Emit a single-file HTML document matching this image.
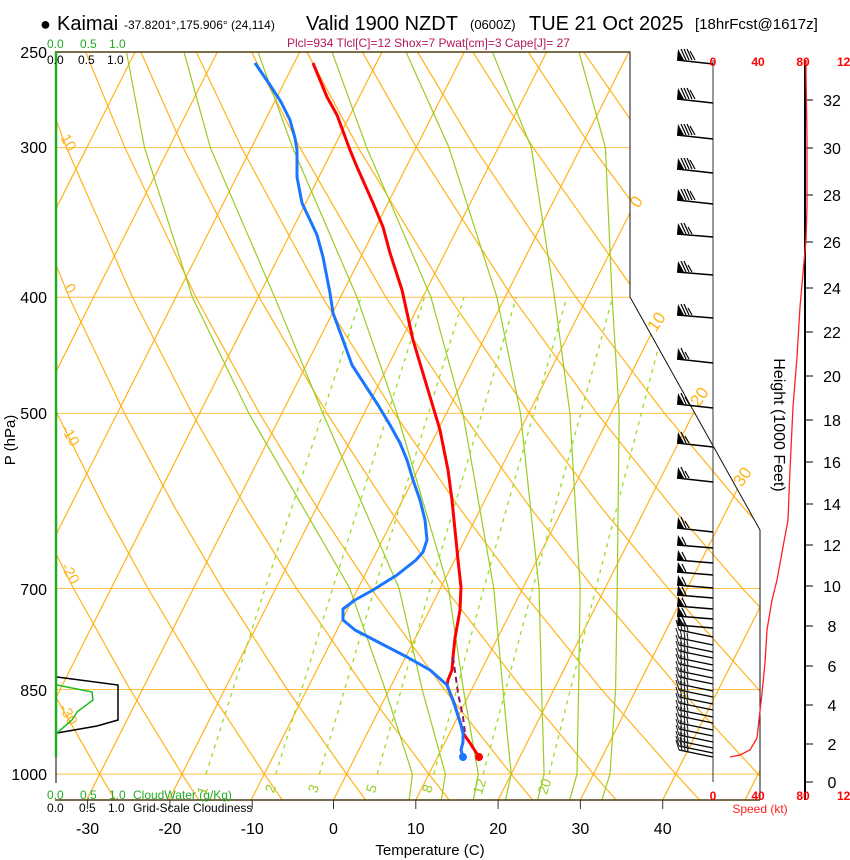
<!DOCTYPE html>
<html><head><meta charset="utf-8"><style>
html,body{margin:0;padding:0;background:#fff;}
svg{display:block;font-family:"Liberation Sans",Arial,sans-serif;}
</style></head><body>
<svg width="850" height="860" viewBox="0 0 850 860" xmlns="http://www.w3.org/2000/svg" xmlns:xlink="http://www.w3.org/1999/xlink">
<defs>
<clipPath id="cp"><polygon points="55,52 630,52 630,297 760,530 760,800 55,800"/></clipPath>
<g id="bA"><line x1="0" y1="0" x2="-36" y2="-4" stroke="#000" stroke-width="1.5"/><polygon points="-36,-4 -29,-4 -35,-15" fill="#000"/><g stroke="#000" stroke-width="1.2"><line x1="-27" y1="-4" x2="-32" y2="-15"/><line x1="-24" y1="-4" x2="-29" y2="-15"/><line x1="-21" y1="-4" x2="-26" y2="-15"/><line x1="-18" y1="-4" x2="-23" y2="-13"/></g></g>
<g id="bB"><line x1="0" y1="0" x2="-36" y2="-3" stroke="#000" stroke-width="1.5"/><polygon points="-36,-3 -29,-3 -35,-14" fill="#000"/><g stroke="#000" stroke-width="1.2"><line x1="-27" y1="-3" x2="-32" y2="-14"/><line x1="-24" y1="-3" x2="-29" y2="-14"/><line x1="-21" y1="-3" x2="-25" y2="-10"/></g></g>
<g id="bC"><line x1="0" y1="0" x2="-36" y2="-4" stroke="#000" stroke-width="1.5"/><polygon points="-36,-4 -29,-4 -35,-15" fill="#000"/><g stroke="#000" stroke-width="1.2"><line x1="-27" y1="-4" x2="-32" y2="-15"/><line x1="-24" y1="-4" x2="-28" y2="-11"/></g></g>
<g id="bD"><line x1="0" y1="0" x2="-36" y2="-3" stroke="#000" stroke-width="1.5"/><polygon points="-36,-3 -29,-3 -35,-13" fill="#000"/><line x1="-27" y1="-3" x2="-31" y2="-11" stroke="#000" stroke-width="1.2"/></g>
<g id="bE"><line x1="0" y1="0" x2="-34" y2="-7" stroke="#000" stroke-width="1.4"/><g stroke="#222" stroke-width="1.1"><line x1="-34" y1="-7" x2="-37" y2="-17"/><line x1="-31" y1="-6.4" x2="-33" y2="-16"/><line x1="-28" y1="-5.8" x2="-29" y2="-15"/><line x1="-25" y1="-5.2" x2="-26" y2="-12"/></g></g>
</defs>
<g clip-path="url(#cp)" fill="none">
<g stroke="#ffc04d" stroke-width="1">
<line x1="55" x2="760" y1="147.6" y2="147.6"/><line x1="55" x2="760" y1="297.3" y2="297.3"/><line x1="55" x2="760" y1="413.4" y2="413.4"/><line x1="55" x2="760" y1="588.5" y2="588.5"/><line x1="55" x2="760" y1="689.5" y2="689.5"/><line x1="55" x2="760" y1="774.1" y2="774.1"/>
</g>
<g stroke="#ffb31a" stroke-width="1.2">
<line x1="-324.9" y1="800" x2="52.8" y2="52"/><line x1="-242.6" y1="800" x2="135.1" y2="52"/><line x1="-160.3" y1="800" x2="217.4" y2="52"/><line x1="-78" y1="800" x2="299.7" y2="52"/><line x1="4.3" y1="800" x2="382" y2="52"/><line x1="86.6" y1="800" x2="464.3" y2="52"/><line x1="168.9" y1="800" x2="546.6" y2="52"/><line x1="251.2" y1="800" x2="628.9" y2="52"/><line x1="333.5" y1="800" x2="711.2" y2="52"/><line x1="415.8" y1="800" x2="793.5" y2="52"/><line x1="498.1" y1="800" x2="875.8" y2="52"/><line x1="580.4" y1="800" x2="958.1" y2="52"/><line x1="662.7" y1="800" x2="1040.4" y2="52"/><line x1="745" y1="800" x2="1122.7" y2="52"/>
<polyline points="115.3,800 99.7,774.1 51.6,689.5 -0.7,588.5 -38.1,508.3"/>
<polyline points="198.8,800 182,774.1 130.1,689.5 73.6,588.5 33,508.3 -11,413.4"/>
<polyline points="282.2,800 264.3,774.1 208.7,689.5 148,588.5 104.1,508.3 57,413.4 5.9,297.3"/>
<polyline points="365.7,800 346.6,774.1 287.2,689.5 222.3,588.5 175.2,508.3 124.5,413.4 69.2,297.3 8.2,147.6"/>
<polyline points="449.2,800 428.9,774.1 365.8,689.5 296.6,588.5 246.4,508.3 192,413.4 132.6,297.3 66.5,147.6 30.5,52.7"/>
<polyline points="532.7,800 511.2,774.1 444.4,689.5 370.9,588.5 317.5,508.3 259.5,413.4 195.9,297.3 124.9,147.6 85.9,52.7"/>
<polyline points="616.2,800 593.5,774.1 522.9,689.5 445.2,588.5 388.6,508.3 327,413.4 259.2,297.3 183.2,147.6 141.2,52.7"/>
<polyline points="699.6,800 675.8,774.1 601.5,689.5 519.6,588.5 459.7,508.3 394.5,413.4 322.5,297.3 241.5,147.6 196.6,52.7"/>
<polyline points="783.1,800 758.1,774.1 680,689.5 593.9,588.5 530.8,508.3 462,413.4 385.9,297.3 299.9,147.6 251.9,52.7"/>
<polyline points="866.6,800 840.4,774.1 758.6,689.5 668.2,588.5 601.9,508.3 529.5,413.4 449.2,297.3 358.2,147.6 307.3,52.7"/>
<polyline points="950.1,800 922.7,774.1 837.2,689.5 742.5,588.5 673,508.3 597,413.4 512.5,297.3 416.5,147.6 362.7,52.7"/>
<polyline points="1033.6,800 1005,774.1 915.7,689.5 816.8,588.5 744.1,508.3 664.5,413.4 575.9,297.3 474.9,147.6 418,52.7"/>
<polyline points="1117,800 1087.3,774.1 994.3,689.5 891.2,588.5 815.2,508.3 732,413.4 639.2,297.3 533.2,147.6 473.4,52.7"/>
<polyline points="1200.5,800 1169.6,774.1 1072.8,689.5 965.5,588.5 886.3,508.3 799.5,413.4 702.5,297.3 591.5,147.6 528.7,52.7"/>
<polyline points="1284,800 1251.9,774.1 1151.4,689.5 1039.8,588.5 957.5,508.3 867,413.4 765.9,297.3 649.9,147.6 584.1,52.7"/>
</g>
<g stroke="#99cc22" stroke-width="1.2">
<polyline points="409.2,800 412.4,774.1 385.2,689.5 349.8,588.5 248.9,413.4 192.4,297.3 144.5,147.6 126.6,52.7"/>
<polyline points="441.3,800 445.4,774.1 422.2,689.5 399.1,588.5 322.9,413.4 274.7,297.3 210.3,147.6 184.2,52.7"/>
<polyline points="473.4,800 478.3,774.1 463.4,689.5 448.5,588.5 397,413.4 357,297.3 292.6,147.6 258.2,52.7"/>
<polyline points="505.5,800 511.2,774.1 502.9,689.5 493.8,588.5 462.9,413.4 431,297.3 366.7,147.6 332.3,52.7"/>
<polyline points="537.6,800 544.1,774.1 541.6,689.5 539.1,588.5 520.5,413.4 496.9,297.3 449,147.6 406.4,52.7"/>
<polyline points="569.7,800 577,774.1 578.6,689.5 580.2,588.5 569.9,413.4 554.5,297.3 531.3,147.6 492.7,52.7"/>
<polyline points="601.8,800 610,774.1 615.6,689.5 617.2,588.5 619.2,413.4 612.1,297.3 605.4,147.6 579.2,52.7"/>
</g>
<g stroke="#99dd22" stroke-width="1.3" stroke-dasharray="4,5">
<polyline points="206,774.1 265,588.5 361.1,297.3"/>
<polyline points="275.8,774.1 332.7,588.5 424.5,297.3"/>
<polyline points="319.4,774.1 374.6,588.5 464,297.3"/>
<polyline points="377.2,774.1 430,588.5 516.3,297.3"/>
<polyline points="433.8,774.1 483.8,588.5 566.7,297.3"/>
<polyline points="483.2,774.1 532.7,588.5 612.6,297.3"/>
<polyline points="549.1,774.1 595.8,588.5 671.4,297.3"/>
</g>
</g>
<g font-size="14" fill="#99cc22" text-anchor="middle">
<text transform="translate(207,792) rotate(-72)">1</text><text transform="translate(275,790) rotate(-72)">2</text><text transform="translate(318,790) rotate(-72)">3</text><text transform="translate(376,790) rotate(-72)">5</text><text transform="translate(432,790) rotate(-72)">8</text><text transform="translate(484,788) rotate(-72)">12</text><text transform="translate(549,788) rotate(-72)">20</text>
</g>
<g font-size="15" fill="#ffb31a" text-anchor="middle">
<text transform="translate(64,145) rotate(60)">10</text><text transform="translate(66,291) rotate(60)">0</text><text transform="translate(66,438) rotate(60)">-10</text><text transform="translate(66,576) rotate(60)">-20</text><text transform="translate(64,717) rotate(60)">-30</text>
</g>
<g font-size="17" fill="#ffb31a" text-anchor="middle">
<text transform="translate(641,205) rotate(-55)">0</text><text transform="translate(661,325) rotate(-55)">10</text><text transform="translate(704,400) rotate(-55)">20</text><text transform="translate(747,480) rotate(-55)">30</text>
</g>
<polyline points="55,52 630,52 630,297 760,530 760,800" fill="none" stroke="#111" stroke-width="1"/>
<line x1="55" x2="630" y1="52" y2="52" stroke="#4d3d10" stroke-width="1.5"/>
<line x1="55" x2="760" y1="800" y2="800" stroke="#4d3d10" stroke-width="1.5"/>
<line x1="56" x2="56" y1="52" y2="757" stroke="#22aa22" stroke-width="2.5"/>
<line x1="56" x2="56" y1="757" y2="783" stroke="#000" stroke-width="1"/>
<g stroke="#333"><line x1="87.6" x2="87.6" y1="800" y2="809"/><line x1="169.9" x2="169.9" y1="800" y2="809"/><line x1="252.2" x2="252.2" y1="800" y2="809"/><line x1="333.5" x2="333.5" y1="800" y2="809"/><line x1="415.8" x2="415.8" y1="800" y2="809"/><line x1="498.1" x2="498.1" y1="800" y2="809"/><line x1="580.4" x2="580.4" y1="800" y2="809"/><line x1="662.7" x2="662.7" y1="800" y2="809"/></g>
<g font-size="16" text-anchor="middle"><text x="87.6" y="834">-30</text><text x="169.9" y="834">-20</text><text x="252.2" y="834">-10</text><text x="333.5" y="834">0</text><text x="415.8" y="834">10</text><text x="498.1" y="834">20</text><text x="580.4" y="834">30</text><text x="662.7" y="834">40</text></g>
<polyline points="57,677 118,685 118,720 97,726 57,733" fill="none" stroke="#000" stroke-width="1.5"/>
<polyline points="57,685 92,692 93,700 77,712 72,720 57,733" fill="none" stroke="#22bb22" stroke-width="1.5"/>
<polyline points="313,63 327,97 337,115 350,150 357,167 373,203 383,227 390,253 402,290 413,340 428,390 440,430 448,470 452,500 455,530 458,560 461,587 460,610 455,638 453,657 452,670 448,680 447,685 454,703 461,725 463,733 470,743 479,757" fill="none" stroke="#ff0000" stroke-width="3" stroke-linejoin="round"/>
<polyline points="453,657 458,693 463,717 465,733" fill="none" stroke="#8b1a6b" stroke-width="2" stroke-dasharray="6,4"/>
<polyline points="255,63 270,85 281,102 290,120 295,138 297,150 297,177 302,203 310,220 317,235 323,257 330,293 333,313 343,340 352,365 365,385 378,405 390,425 400,443 407,460 413,480 420,500 425,520 427,540 423,552 416,560 397,575 373,590 355,600 343,609 343,620 355,630 380,643 407,657 430,670 447,685 454,703 461,725 463,733 463,742 461,750 463,757" fill="none" stroke="#1a75ff" stroke-width="3" stroke-linejoin="round"/>
<circle cx="479" cy="757" r="4" fill="#ff0000"/><circle cx="463" cy="757" r="4" fill="#1a75ff"/>
<line x1="713" x2="713" y1="60" y2="782" stroke="#333" stroke-width="1"/>
<line x1="805" x2="805" y1="60" y2="800" stroke="#000" stroke-width="2"/>
<g stroke="#000"><line x1="805" x2="813" y1="782" y2="782"/><line x1="805" x2="813" y1="744" y2="744"/><line x1="805" x2="813" y1="705" y2="705"/><line x1="805" x2="813" y1="666" y2="666"/><line x1="805" x2="813" y1="626" y2="626"/><line x1="805" x2="813" y1="586" y2="586"/><line x1="805" x2="813" y1="545" y2="545"/><line x1="805" x2="813" y1="504" y2="504"/><line x1="805" x2="813" y1="462" y2="462"/><line x1="805" x2="813" y1="420" y2="420"/><line x1="805" x2="813" y1="376" y2="376"/><line x1="805" x2="813" y1="332" y2="332"/><line x1="805" x2="813" y1="288" y2="288"/><line x1="805" x2="813" y1="242" y2="242"/><line x1="805" x2="813" y1="195" y2="195"/><line x1="805" x2="813" y1="148" y2="148"/><line x1="805" x2="813" y1="100" y2="100"/></g>
<g font-size="16" text-anchor="middle"><text x="832" y="788">0</text><text x="832" y="750">2</text><text x="832" y="711">4</text><text x="832" y="672">6</text><text x="832" y="632">8</text><text x="832" y="592">10</text><text x="832" y="551">12</text><text x="832" y="510">14</text><text x="832" y="468">16</text><text x="832" y="426">18</text><text x="832" y="382">20</text><text x="832" y="338">22</text><text x="832" y="294">24</text><text x="832" y="248">26</text><text x="832" y="201">28</text><text x="832" y="154">30</text><text x="832" y="106">32</text></g>
<polyline points="730,757 740,755 750,750 757,738 759,720 762,693 765,663 767,630 772,600 777,580 783,547 788,520 790,470 793,407 797,357 800,307 803,273 806,240 807,207 807,140 806,73 806,60" fill="none" stroke="#ff2020" stroke-width="1.3"/>
<use xlink:href="#bA" href="#bA" transform="translate(713,64)"/><use xlink:href="#bA" href="#bA" transform="translate(713,103)"/><use xlink:href="#bA" href="#bA" transform="translate(713,139)"/><use xlink:href="#bA" href="#bA" transform="translate(713,173)"/><use xlink:href="#bA" href="#bA" transform="translate(713,204)"/>
<use xlink:href="#bB" href="#bB" transform="translate(713,237)"/><use xlink:href="#bB" href="#bB" transform="translate(713,275)"/><use xlink:href="#bB" href="#bB" transform="translate(713,318)"/>
<use xlink:href="#bC" href="#bC" transform="translate(713,363)"/><use xlink:href="#bC" href="#bC" transform="translate(713,408)"/><use xlink:href="#bC" href="#bC" transform="translate(713,447)"/><use xlink:href="#bC" href="#bC" transform="translate(713,482)"/><use xlink:href="#bC" href="#bC" transform="translate(713,532)"/>
<use xlink:href="#bD" href="#bD" transform="translate(713,548)"/><use xlink:href="#bD" href="#bD" transform="translate(713,563)"/><use xlink:href="#bD" href="#bD" transform="translate(713,575)"/><use xlink:href="#bD" href="#bD" transform="translate(713,588)"/><use xlink:href="#bD" href="#bD" transform="translate(713,598)"/><use xlink:href="#bD" href="#bD" transform="translate(713,609)"/><use xlink:href="#bD" href="#bD" transform="translate(713,619)"/><use xlink:href="#bD" href="#bD" transform="translate(713,628)"/>
<use xlink:href="#bE" href="#bE" transform="translate(713,637)"/><use xlink:href="#bE" href="#bE" transform="translate(713,645)"/><use xlink:href="#bE" href="#bE" transform="translate(713,652)"/><use xlink:href="#bE" href="#bE" transform="translate(713,658)"/><use xlink:href="#bE" href="#bE" transform="translate(713,665)"/><use xlink:href="#bE" href="#bE" transform="translate(713,671)"/><use xlink:href="#bE" href="#bE" transform="translate(713,678)"/><use xlink:href="#bE" href="#bE" transform="translate(713,684)"/><use xlink:href="#bE" href="#bE" transform="translate(713,691)"/><use xlink:href="#bE" href="#bE" transform="translate(713,697)"/><use xlink:href="#bE" href="#bE" transform="translate(713,704)"/><use xlink:href="#bE" href="#bE" transform="translate(713,710)"/><use xlink:href="#bE" href="#bE" transform="translate(713,717)"/><use xlink:href="#bE" href="#bE" transform="translate(713,723)"/><use xlink:href="#bE" href="#bE" transform="translate(713,730)"/><use xlink:href="#bE" href="#bE" transform="translate(713,736)"/><use xlink:href="#bE" href="#bE" transform="translate(713,742)"/><use xlink:href="#bE" href="#bE" transform="translate(713,748)"/><use xlink:href="#bE" href="#bE" transform="translate(713,753)"/><use xlink:href="#bE" href="#bE" transform="translate(713,757)"/>
<text x="40" y="30" font-size="18">●</text>
<text x="57" y="30" font-size="20">Kaimai</text>
<text x="124" y="29" font-size="12">-37.8201°,175.906° (24,114)</text>
<text x="306" y="30" font-size="20">Valid 1900 NZDT</text>
<text x="470" y="29" font-size="13">(0600Z)</text>
<text x="529" y="30" font-size="20">TUE 21 Oct 2025</text>
<text x="695" y="29" font-size="15">[18hrFcst@1617z]</text>
<text x="287" y="47" font-size="12" fill="#b3185c">Plcl=934 Tlcl[C]=12 Shox=7 Pwat[cm]=3 Cape[J]= 27</text>
<g font-size="12" fill="#22aa22"><text x="47" y="48">0.0</text><text x="80" y="48">0.5</text><text x="109" y="48">1.0</text></g>
<g font-size="12" fill="#000"><text x="47" y="64">0.0</text><text x="78" y="64">0.5</text><text x="107" y="64">1.0</text></g>
<g font-size="12" fill="#22aa22"><text x="47" y="799">0.0</text><text x="80" y="799">0.5</text><text x="109" y="799">1.0</text><text x="133" y="799">CloudWater (g/Kg)</text></g>
<g font-size="12" fill="#000"><text x="47" y="812">0.0</text><text x="79" y="812">0.5</text><text x="108" y="812">1.0</text><text x="133" y="812">Grid-Scale Cloudiness</text></g>
<g font-size="16" text-anchor="end"><text x="47" y="58">250</text><text x="47" y="153">300</text><text x="47" y="303">400</text><text x="47" y="419">500</text><text x="47" y="595">700</text><text x="47" y="696">850</text><text x="47" y="780">1000</text></g>
<text transform="translate(15,440) rotate(-90)" font-size="15" text-anchor="middle">P (hPa)</text>
<text x="430" y="855" font-size="15" text-anchor="middle">Temperature (C)</text>
<text transform="translate(774,425) rotate(90)" font-size="16" text-anchor="middle">Height (1000 Feet)</text>
<g font-size="12" fill="#ff0000" font-weight="bold" text-anchor="middle"><text x="713" y="66">0</text><text x="758" y="66">40</text><text x="803" y="66">80</text><text x="847" y="66">120</text>
<text x="713" y="800">0</text><text x="758" y="800">40</text><text x="803" y="800">80</text><text x="847" y="800">120</text></g>
<text x="760" y="813" font-size="12" fill="#ff2222" text-anchor="middle">Speed (kt)</text>
</svg>
</body></html>
